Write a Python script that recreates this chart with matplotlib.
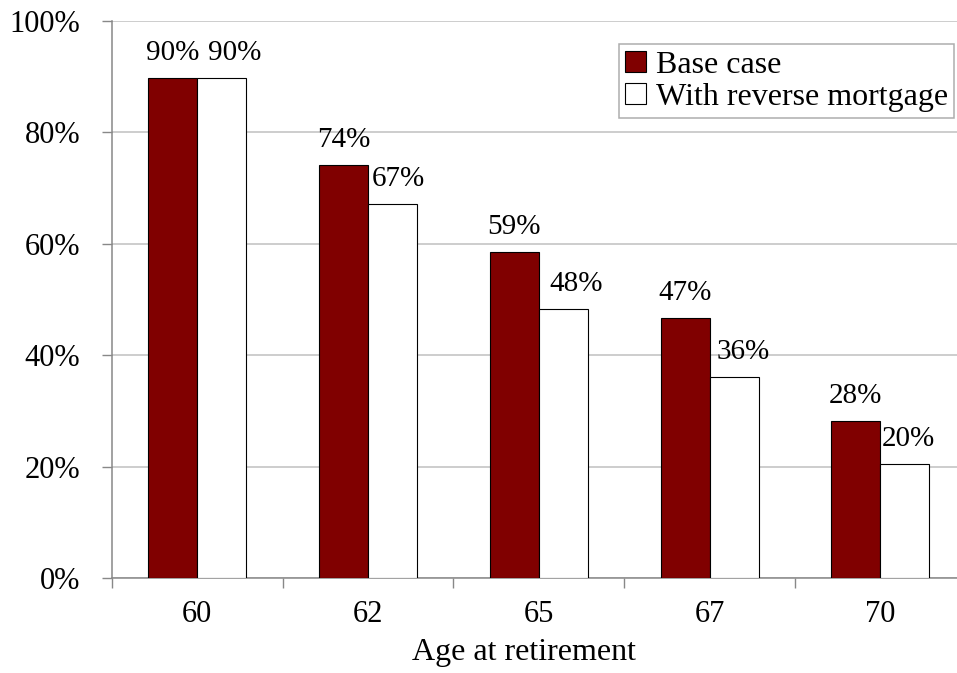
import matplotlib.pyplot as plt
import numpy as np
from matplotlib.ticker import FixedLocator, FuncFormatter

# valors llegits del gràfic (%)
edats = ['60', '62', '65', '67', '70']
base = [89.8, 74.1, 58.6, 46.6, 28.1]
hipoteca_inversa = [89.8, 67.2, 48.3, 36.0, 20.4]
etiquetes_serie = ['Base case', 'With reverse mortgage']

plt.rcParams['font.family'] = ['Liberation Serif', 'DejaVu Serif']

def main():
    fig = plt.figure(figsize=(9.57, 6.73), dpi=100)
    ax = fig.add_axes([0.117, 0.1412, 0.892, 0.8276])

    x = np.arange(len(edats))
    amplada = 0.287
    b1 = ax.bar(x - amplada / 2, base, amplada, color='#800000',
                edgecolor='black', linewidth=0.8, label=etiquetes_serie[0], zorder=3)
    b2 = ax.bar(x + amplada / 2, hipoteca_inversa, amplada, color='white',
                edgecolor='black', linewidth=0.8, label=etiquetes_serie[1], zorder=3)

    # etiquetes de valor (les de la segona sèrie, una mica desplaçades a la dreta)
    desplacaments = [(b1, [0, 0, 0, 0, 0]), (b2, [9.5, 4.5, 9.5, 6.5, 2.5])]
    for barres, dx in desplacaments:
        for barra, d in zip(barres, dx):
            h = barra.get_height()
            ax.annotate(f'{h:.0f}%', (barra.get_x() + barra.get_width() / 2, h),
                        xytext=(d, 13), textcoords='offset points',
                        ha='center', va='baseline', fontsize=21)

    ax.set_xlim(-0.5, 4.5)
    ax.set_ylim(0, 100)
    ax.set_yticks(np.arange(0, 101, 20))
    ax.yaxis.set_major_formatter(FuncFormatter(lambda v, p: f'{v:.0f}%'))
    ax.grid(axis='y', color='#c0c0c0', linewidth=1.1, zorder=0)

    # marques entre categories, etiquetes al centre
    ax.xaxis.set_major_locator(FixedLocator(np.arange(-0.5, 5, 1)))
    ax.xaxis.set_major_formatter(FuncFormatter(lambda v, p: ''))
    ax.xaxis.set_minor_locator(FixedLocator(x))
    ax.set_xticklabels(edats, minor=True)
    ax.tick_params(axis='x', which='major', length=7, color='#888888', width=1)
    ax.tick_params(axis='x', which='minor', length=0, pad=16, labelsize=22)
    ax.tick_params(axis='y', length=7, color='#888888', width=1, pad=16, labelsize=22)

    for s in ('top', 'right'):
        ax.spines[s].set_visible(False)
    for s in ('left', 'bottom'):
        ax.spines[s].set_color('#888888')
        ax.spines[s].set_linewidth(1.1)

    ax.set_xlabel('Age at retirement', fontsize=23)
    ax.xaxis.set_label_coords(0.483, -0.108)

    leg = ax.legend(loc='upper left', bbox_to_anchor=(0.594, 0.958), fontsize=23,
                    frameon=True, fancybox=False, edgecolor='#999999',
                    handlelength=0.65, handleheight=0.65, handletextpad=0.3,
                    borderpad=0.2, labelspacing=0.1, borderaxespad=0)
    leg.get_frame().set_linewidth(1.1)

    fig.savefig('out.png', dpi=100)

if __name__ == "__main__":
    main()
